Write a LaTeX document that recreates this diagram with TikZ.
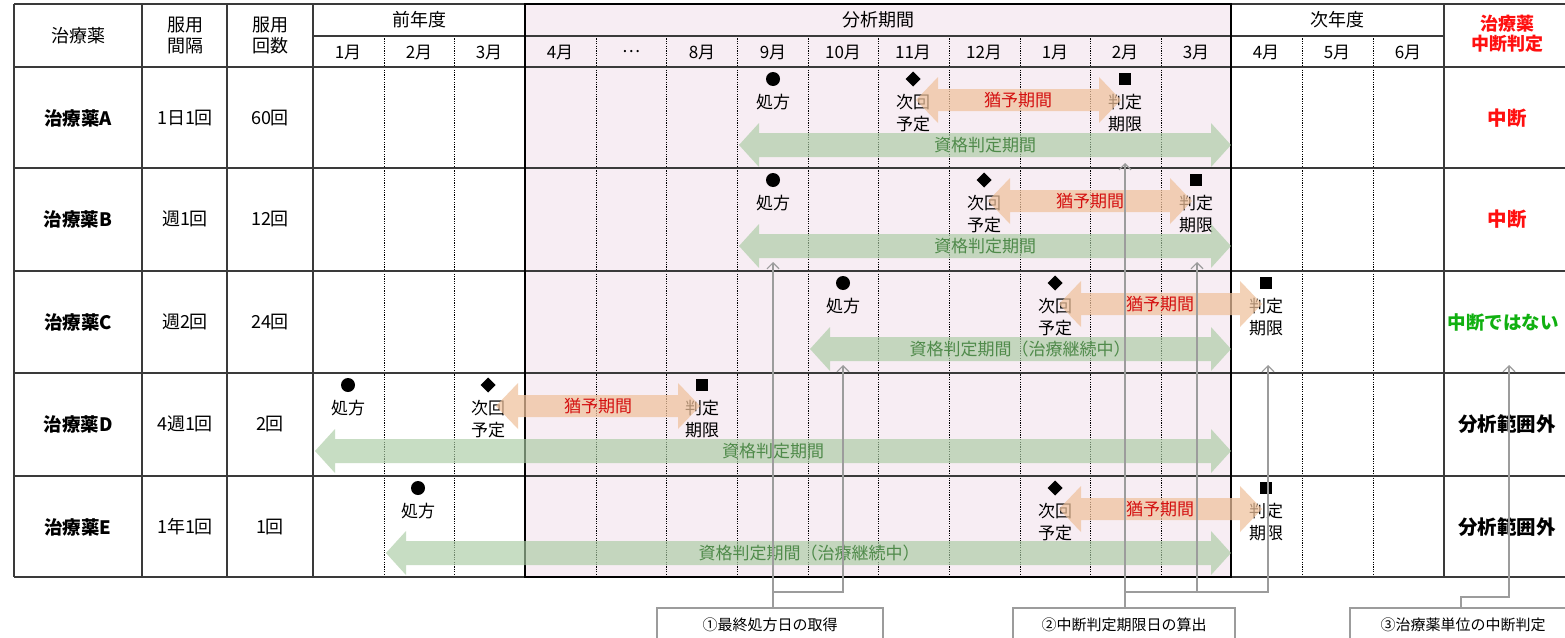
\documentclass[tikz,border=0pt]{standalone}
\usepackage{fontspec}
\setmainfont{Noto Sans CJK JP}
\usetikzlibrary{arrows.meta,shapes.geometric}
\definecolor{pinkbg}{HTML}{F7EDF3}
\definecolor{gridc}{HTML}{3A3A3A}
\definecolor{orangeA}{HTML}{EFC29C}
\definecolor{greenA}{HTML}{A9CBA3}
\definecolor{greenT}{HTML}{4F8A4A}
\definecolor{redT}{HTML}{D41010}
\definecolor{redR}{HTML}{FF1010}
\definecolor{greenR}{HTML}{10B010}
\definecolor{callc}{HTML}{9C9C9C}
% double arrow: x1 x2 y shafthalf headhalf headlen style
\newcommand\DArr[7]{%
  \fill[#7] (#1,#3) -- ({#1+#6},{#3-#5}) -- ({#1+#6},{#3-#4}) -- ({#2-#6},{#3-#4})
    -- ({#2-#6},{#3-#5}) -- (#2,#3) -- ({#2-#6},{#3+#5}) -- ({#2-#6},{#3+#4})
    -- ({#1+#6},{#3+#4}) -- ({#1+#6},{#3+#5}) -- cycle;}
\begin{document}
\begin{tikzpicture}[x=1pt,y=-1pt,
  every node/.style={inner sep=0pt, outer sep=0pt},
  txt/.style={font=\fontsize{17}{22}\selectfont, align=center},
  hdr/.style={font=\fontsize{18}{21}\selectfont, align=center},
  mon/.style={font=\fontsize{17}{21}\selectfont},
  drug/.style={font=\fontsize{18.5}{21}\selectfont\bfseries},
  res/.style={font=\fontsize{19.5}{21}\selectfont\bfseries},
  grace/.style={font=\fontsize{17}{20}\selectfont, text=redT},
  elig/.style={font=\fontsize{17}{20}\selectfont, text=greenT},
  dotm/.style={circle, fill=black, minimum size=14pt},
  diam/.style={diamond, fill=black, minimum size=15pt},
  sqm/.style={rectangle, fill=black, minimum size=12pt},
  monthline/.style={draw=black, line width=0.7pt, dash pattern=on 1.2pt off 1.2pt},
  gridline/.style={draw=gridc, line width=1.3pt},
  orangearr/.style={fill=orangeA, fill opacity=0.72},
  greenarr/.style={fill=greenA, fill opacity=0.65},
  callout/.style={draw=callc, line width=1.2pt},
  calltip/.style={callout, {Straight Barb[length=6pt,width=12pt,line width=1.2pt]}-},
  callbox/.style={draw=callc, line width=1.2pt, fill=white, minimum height=34pt,
     font=\fontsize{15}{17}\selectfont}
]
\clip (0,0) rectangle (1565,637);
\fill[white] (0,0) rectangle (1565,637);
% analysis period background
\fill[pinkbg] (525,4) rectangle (1231,577);
% dotted month lines
\foreach \x in {384,454,596,666,737,808,878,949,1020,1090,1161,1302,1373}
  \draw[monthline] (\x,36) -- (\x,577);
% solid grid
\foreach \y in {4,67,168,271,373,476,577}
  \draw[gridline] (14,\y) -- (1575,\y);
\draw[gridline] (313,36) -- (1444,36);
\foreach \x in {14,142,227,313,1444}
  \draw[gridline] (\x,4) -- (\x,577);
\draw[black, line width=2.6pt] (525,4) rectangle (1231,577);

% header
\node[hdr] (h1) at (78,36) {治療薬};
\node[hdr] (h2) at (185,36) {服用\\間隔};
\node[hdr] (h3) at (270,36) {服用\\回数};
\node[hdr] (hp) at (419,20) {前年度};
\node[hdr] (ha) at (878,20) {分析期間};
\node[hdr] (hn) at (1337,20) {次年度};
\node[hdr, text=redR, font=\fontsize{18}{20}\selectfont\bfseries] (hr) at (1507,34) {治療薬\\中断判定};
\foreach \x/\m [count=\i] in {348/1月,419/2月,489/3月,560/4月,631/…,702/8月,773/9月,843/10月,913/11月,984/12月,1055/1月,1125/2月,1196/3月,1266/4月,1337/5月,1408/6月}
  \node[mon] (m\i) at (\x,52) {\m};

% left columns
\foreach \y/\n/\a/\b [count=\i] in {118/A/1日1回/60回,219/B/週1回/12回,322/C/週2回/24回,424/D/4週1回/2回,527/E/1年1回/1回}{
  \node[drug] (d\i) at (78,\y) {治療薬\n};
  \node[hdr] (iv\i) at (185,\y) {\a};
  \node[hdr] (ct\i) at (270,\y) {\b};
}
% results
\node[res, text=redR] (r1) at (1507,118) {中断};
\node[res, text=redR] (r2) at (1507,219) {中断};
\node[res, text=greenR, font=\fontsize{18.5}{21}\selectfont\bfseries] (r3) at (1503,322) {中断ではない};
\node[res] (r4) at (1507,424) {分析範囲外};
\node[res] (r5) at (1507,527) {分析範囲外};

% markers and labels: row A (t=67)
\node[dotm] (A1) at (773,79) {};
\node[txt] (A1l) at (773,102) {処方};
\node[diam] (A2) at (913,79) {};
\node[txt] (A2l) at (913,113) {次回\\予定};
\node[sqm] (A3) at (1125,79) {};
\node[txt] (A3l) at (1125,113) {判定\\期限};
% row B (t=168)
\node[dotm] (B1) at (773,180) {};
\node[txt] (B1l) at (773,203) {処方};
\node[diam] (B2) at (984,180) {};
\node[txt] (B2l) at (984,214) {次回\\予定};
\node[sqm] (B3) at (1196,180) {};
\node[txt] (B3l) at (1196,214) {判定\\期限};
% row C (t=271)
\node[dotm] (C1) at (843,283) {};
\node[txt] (C1l) at (843,306) {処方};
\node[diam] (C2) at (1055,283) {};
\node[txt] (C2l) at (1055,317) {次回\\予定};
\node[sqm] (C3) at (1266,283) {};
\node[txt] (C3l) at (1266,317) {判定\\期限};
% row D (t=373)
\node[dotm] (D1) at (348,385) {};
\node[txt] (D1l) at (348,408) {処方};
\node[diam] (D2) at (488,385) {};
\node[txt] (D2l) at (488,419) {次回\\予定};
\node[sqm] (D3) at (702,385) {};
\node[txt] (D3l) at (702,419) {判定\\期限};
% row E (t=476)
\node[dotm] (E1) at (418,488) {};
\node[txt] (E1l) at (418,511) {処方};
\node[diam] (E2) at (1055,488) {};
\node[txt] (E2l) at (1055,522) {次回\\予定};
\node[sqm] (E3) at (1266,488) {};
\node[txt] (E3l) at (1266,522) {判定\\期限};

% grace period arrows
\DArr{916}{1121}{100}{11}{23}{22}{orangearr}
\DArr{988}{1192}{201}{11}{23}{22}{orangearr}
\DArr{1059}{1262}{304}{11}{23}{22}{orangearr}
\DArr{496}{700}{406}{11}{23}{22}{orangearr}
\DArr{1059}{1262}{509}{11}{23}{22}{orangearr}
% eligibility arrows
\DArr{739}{1231}{145}{12}{22}{20}{greenarr}
\DArr{739}{1231}{246}{12}{22}{20}{greenarr}
\DArr{810}{1231}{349}{12}{22}{20}{greenarr}
\DArr{315}{1231}{451}{12}{22}{20}{greenarr}
\DArr{386}{1231}{553}{12}{22}{20}{greenarr}

\node[grace] (gA) at (1018,100) {猶予期間};
\node[grace] (gB) at (1090,201) {猶予期間};
\node[grace] (gC) at (1160,304) {猶予期間};
\node[grace] (gD) at (598,406) {猶予期間};
\node[grace] (gE) at (1160,509) {猶予期間};
\node[elig] (eA) at (985,145) {資格判定期間};
\node[elig] (eB) at (985,246) {資格判定期間};
\node[elig] (eC) at (1020,349) {資格判定期間（治療継続中）};
\node[elig] (eD) at (773,451) {資格判定期間};
\node[elig] (eE) at (809,553) {資格判定期間（治療継続中）};

% callouts
\node[callbox, minimum width=226pt] (box1) at (770,625) {①最終処方日の取得};
\node[callbox, minimum width=222pt] (box2) at (1124,625) {②中断判定期限日の算出};
\node[callbox, minimum width=226pt] (box3) at (1463,625) {③治療薬単位の中断判定};

\coordinate (t1) at (773,262);
\coordinate (t2) at (843,365);
\coordinate (j1) at (773,592);
\coordinate (j2) at (843,592);
\draw[calltip] (t1) -- (box1.north -| t1);
\draw[calltip] (t2) -- (j2) -- (j1);

\coordinate (t3) at (1125,163);
\coordinate (t4) at (1197,262);
\coordinate (t5) at (1268,365);
\coordinate (j3) at (1125,592);
\coordinate (j4) at (1197,592);
\coordinate (j5) at (1268,592);
\draw[calltip] (t3) -- (box2.north -| t3);
\draw[calltip] (t4) -- (j4);
\draw[calltip] (t5) -- (j5) -- (j3);

\coordinate (t6) at (1509,365);
\coordinate (j6) at (1509,597);
\coordinate (j7) at (1461,597);
\draw[calltip] (t6) -- (j6) -- (j7) -- (box3.north -| j7);
\end{tikzpicture}
\end{document}
